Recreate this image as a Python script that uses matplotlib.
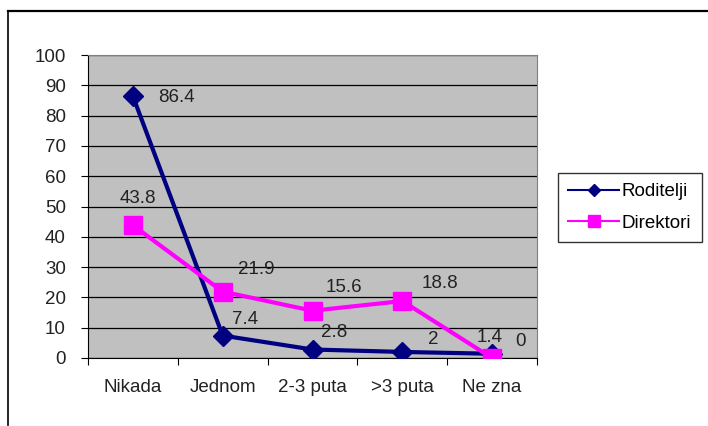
import matplotlib
matplotlib.use("Agg")
import matplotlib.pyplot as plt
from matplotlib.lines import Line2D

plt.rcParams['font.family'] = ['Liberation Sans', 'DejaVu Sans']

categories = ['Nikada', 'Jednom', '2-3 puta', '>3 puta', 'Ne zna']
roditelji = [86.4, 7.4, 2.8, 2, 1.4]
direktori = [43.8, 21.9, 15.6, 18.8, 0]

# label offsets in pixels (dx right, dy up)
rod_off = [(44, -1), (22, 16), (22, 17), (31, 12), (-2, 16)]
dir_off = [(5, 27), (34, 22), (31, 23), (38, 18), (28, 16)]

FS = 13.5
W, H = 708, 426
fig = plt.figure(figsize=(W / 100, H / 100), dpi=100)

# outer chart frame (left and top edges visible)
fig.add_artist(Line2D([8 / W, 8 / W], [1 - 425 / H, 1 - 11 / H], color='black', lw=1.2))
fig.add_artist(Line2D([8 / W, 1], [1 - 11 / H, 1 - 11 / H], color='black', lw=1.6))

ax = fig.add_axes([88 / W, 1 - 358 / H, (537 - 88) / W, (358 - 55) / H])
ax.set_facecolor('#C0C0C0')
x = list(range(len(categories)))

ax.set_xlim(-0.5, len(categories) - 0.5)
ax.set_ylim(0, 100)
ax.set_yticks(range(0, 101, 10))
ax.yaxis.grid(True, color='black', lw=0.9)
ax.set_axisbelow(True)

ax.plot(x, roditelji, color='#000080', lw=3, marker='D', ms=10, label='Roditelji', zorder=3)
ax.plot(x, direktori, color='#FF00FF', lw=3, marker='s', ms=13, label='Direktori', zorder=4)

for i, v in enumerate(roditelji):
    ax.annotate(f'{v:g}', (i, v), xytext=(rod_off[i][0] * 0.72, rod_off[i][1] * 0.72),
                textcoords='offset points', ha='center', va='center', fontsize=FS, color='#222222')
for i, v in enumerate(direktori):
    ax.annotate(f'{v:g}', (i, v), xytext=(dir_off[i][0] * 0.72, dir_off[i][1] * 0.72),
                textcoords='offset points', ha='center', va='center', fontsize=FS, color='#222222')

ax.set_xticks([i - 0.5 for i in range(len(categories) + 1)])
ax.set_xticklabels([])
ax.set_xticks(x, minor=True)
ax.set_xticklabels(categories, minor=True, fontsize=FS, color='#222222')
ax.tick_params(axis='x', which='minor', length=0, pad=15)
ax.tick_params(axis='x', which='major', length=5, direction='out')
ax.tick_params(axis='y', length=5, direction='out', labelsize=FS, pad=11, labelcolor='#222222')

for side in ['top', 'right']:
    ax.spines[side].set_color('#808080')
for side in ['left', 'bottom']:
    ax.spines[side].set_color('black')

leg = ax.legend(loc='upper left', bbox_to_anchor=((558 - 88) / (537 - 88), (358 - 173) / (358 - 55)),
                borderaxespad=0, frameon=True, fancybox=False, edgecolor='black', fontsize=FS,
                handlelength=2.7, borderpad=0.55, labelspacing=0.75, handletextpad=0.15,
                markerscale=0.65)
for h in leg.get_lines():
    h.set_linewidth(1.5)
leg.get_frame().set_linewidth(1)

fig.savefig('out.png', dpi=100)
